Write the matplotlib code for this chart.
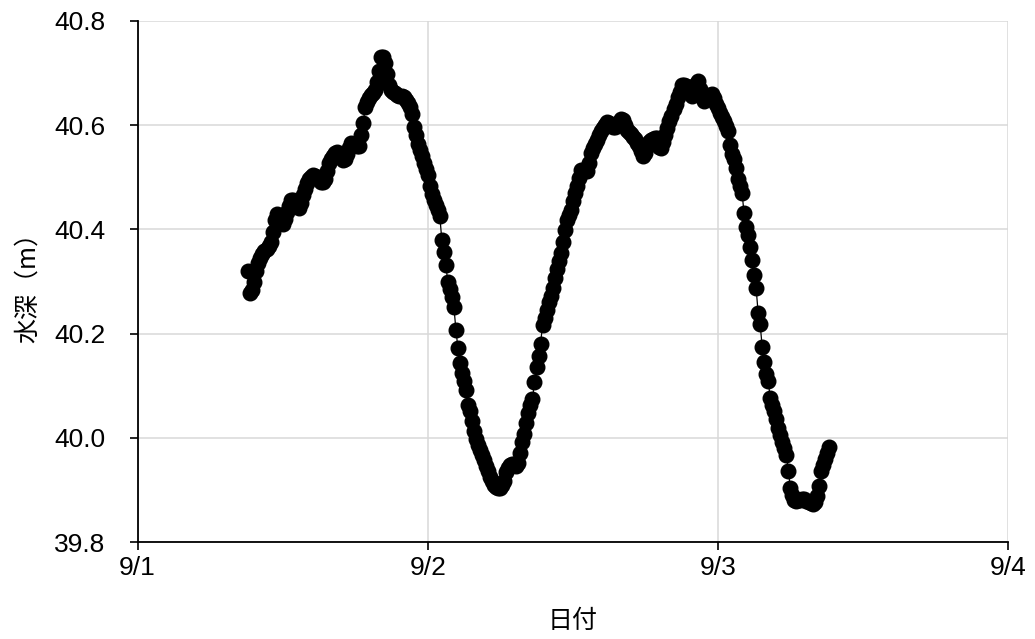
import numpy as np
import pandas as pd
import matplotlib
matplotlib.use("Agg")
import matplotlib.pyplot as plt
import matplotlib.dates as mdates

plt.rcParams["font.family"] = ["Liberation Sans", "Noto Sans CJK JP", "DejaVu Sans"]

# 10分間隔の水深データ (9/1 09:10 から)
START = "2023-09-01 09:10"
STEP = "10min"
depth = [
    40.320, 40.278, 40.283, 40.300, 40.321, 40.336, 40.345, 40.353, 40.358, 40.363,
    40.368, 40.376, 40.394, 40.417, 40.429, 40.422, 40.415, 40.411, 40.420, 40.433,
    40.444, 40.456, 40.456, 40.451, 40.446, 40.441, 40.451, 40.466, 40.478, 40.489,
    40.497, 40.501, 40.505, 40.503, 40.500, 40.496, 40.491, 40.490, 40.496, 40.512,
    40.528, 40.535, 40.541, 40.547, 40.549, 40.543, 40.538, 40.533, 40.535, 40.545,
    40.555, 40.565, 40.563, 40.561, 40.560, 40.560, 40.580, 40.604, 40.635, 40.645,
    40.652, 40.657, 40.661, 40.667, 40.682, 40.703, 40.730, 40.730, 40.718, 40.697,
    40.677, 40.668, 40.664, 40.661, 40.658, 40.655, 40.655, 40.653, 40.648, 40.642,
    40.635, 40.622, 40.596, 40.580, 40.563, 40.552, 40.541, 40.527, 40.516, 40.505,
    40.483, 40.467, 40.456, 40.446, 40.437, 40.426, 40.380, 40.357, 40.331, 40.299,
    40.285, 40.270, 40.251, 40.208, 40.172, 40.144, 40.125, 40.109, 40.092, 40.063,
    40.051, 40.032, 40.013, 39.998, 39.987, 39.977, 39.967, 39.957, 39.947, 39.936,
    39.926, 39.917, 39.910, 39.906, 39.905, 39.905, 39.910, 39.917, 39.935, 39.943,
    39.949, 39.950, 39.950, 39.947, 39.952, 39.971, 39.993, 40.008, 40.028, 40.047,
    40.064, 40.075, 40.107, 40.137, 40.158, 40.181, 40.216, 40.231, 40.246, 40.260,
    40.273, 40.287, 40.306, 40.324, 40.339, 40.354, 40.376, 40.399, 40.417, 40.427,
    40.437, 40.455, 40.469, 40.483, 40.499, 40.514, 40.513, 40.512, 40.511, 40.527,
    40.547, 40.555, 40.564, 40.572, 40.580, 40.588, 40.594, 40.600, 40.605, 40.603,
    40.600, 40.597, 40.597, 40.600, 40.605, 40.611, 40.610, 40.600, 40.590, 40.586,
    40.582, 40.578, 40.573, 40.566, 40.559, 40.550, 40.541, 40.547, 40.559, 40.567,
    40.572, 40.574, 40.576, 40.576, 40.558, 40.555, 40.568, 40.580, 40.594, 40.607,
    40.618, 40.630, 40.641, 40.653, 40.664, 40.676, 40.677, 40.675, 40.671, 40.663,
    40.656, 40.665, 40.679, 40.685, 40.670, 40.658, 40.647, 40.650, 40.654, 40.657,
    40.660, 40.652, 40.641, 40.632, 40.624, 40.616, 40.608, 40.598, 40.588, 40.562,
    40.545, 40.535, 40.518, 40.496, 40.483, 40.470, 40.432, 40.404, 40.390, 40.366,
    40.342, 40.312, 40.287, 40.240, 40.218, 40.175, 40.145, 40.122, 40.109, 40.077,
    40.064, 40.052, 40.036, 40.020, 40.005, 39.993, 39.981, 39.968, 39.936, 39.905,
    39.891, 39.881, 39.879, 39.881, 39.882, 39.884, 39.883, 39.880, 39.878, 39.876,
    39.874, 39.878, 39.888, 39.908, 39.936, 39.949, 39.960, 39.971, 39.983,
]
times = pd.date_range(START, periods=len(depth), freq=STEP)

X_START, X_END = "2023-09-01", "2023-09-04"
Y_MIN, Y_MAX, Y_STEP = 39.8, 40.8, 0.2

fig = plt.figure(figsize=(10.35, 6.39), dpi=100)
ax = fig.add_axes([0.1329, 0.1513, 0.8410, 0.8163])

ax.plot(times, depth, "-o", color="black", lw=0.9, ms=10.5, zorder=3)

ax.set_xlim(pd.Timestamp(X_START), pd.Timestamp(X_END))
ax.set_ylim(Y_MIN, Y_MAX)
ax.xaxis.set_major_locator(mdates.DayLocator())
ax.xaxis.set_major_formatter(
    plt.FuncFormatter(lambda v, p: f"{mdates.num2date(v).month}/{mdates.num2date(v).day}"))
ax.set_yticks(np.arange(Y_MIN, Y_MAX + 0.001, Y_STEP))
ax.yaxis.set_major_formatter(plt.FuncFormatter(lambda v, p: f"{v:.1f}"))

ax.grid(True, color="#d9d9d9", lw=1.1, zorder=0)
ax.set_axisbelow(True)
for s in ["top", "right"]:
    ax.spines[s].set_visible(False)
for s in ["left", "bottom"]:
    ax.spines[s].set_color("black")
    ax.spines[s].set_linewidth(1.3)

ax.tick_params(axis="y", direction="out", length=6, width=1.2, pad=17, labelsize=19)
ax.tick_params(axis="x", direction="out", length=6, width=1.2, pad=4, labelsize=19)

ax.set_ylabel("水深（m）", fontsize=18, family=["Noto Sans CJK JP"], labelpad=10)
ax.set_xlabel("日付", fontsize=18, family=["Noto Sans CJK JP"], labelpad=20)

fig.savefig("out.png", dpi=100, facecolor="white")
